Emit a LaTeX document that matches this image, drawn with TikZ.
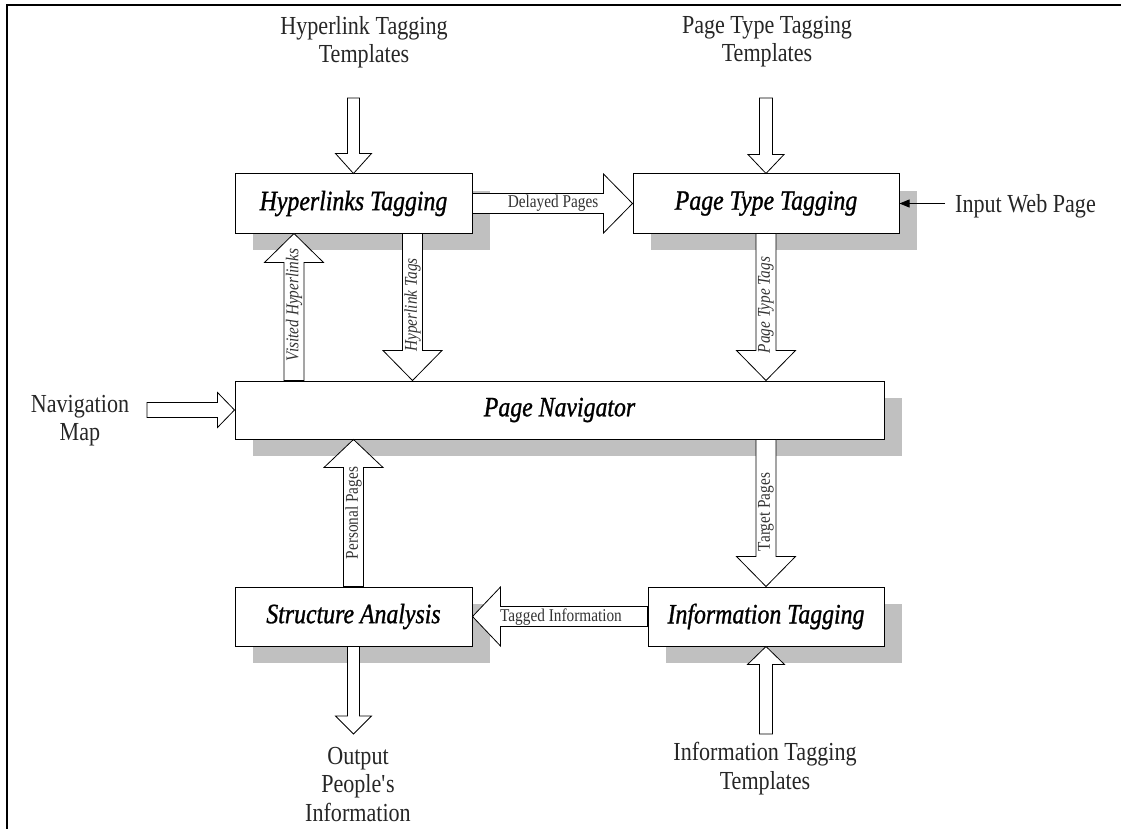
\documentclass[tikz,border=0pt]{standalone}
\usepackage{fontspec}
\setmainfont[FakeStretch=0.85]{Liberation Serif}
\newfontfamily\boxlabelfont[FakeStretch=0.85, FakeBold=1]{Liberation Serif}
\usetikzlibrary{calc,shadows,arrows.meta}
\definecolor{shadowgray}{RGB}{192,192,192}
% vertical block arrow: #1 start, #2 tip, #3 shaft half width, #4 head half width, #5 head length (negative = upward)
\newcommand{\vblock}[5]{%
  \draw[blk] ($(#1 -| #2)+(-#3,0)$) -- ($(#2)+(-#3,{-(#5)})$) -- ($(#2)+(-#4,{-(#5)})$) -- (#2)
    -- ($(#2)+(#4,{-(#5)})$) -- ($(#2)+(#3,{-(#5)})$) -- ($(#1 -| #2)+(#3,0)$) -- cycle;}
% horizontal block arrow: #5 head length (negative = leftward)
\newcommand{\hblock}[5]{%
  \draw[blk] ($(#1 |- #2)+(0,-#3)$) -- ($(#2)+({-(#5)},-#3)$) -- ($(#2)+({-(#5)},-#4)$) -- (#2)
    -- ($(#2)+({-(#5)},#4)$) -- ($(#2)+({-(#5)},#3)$) -- ($(#1 |- #2)+(0,#3)$) -- cycle;}
\tikzset{
  box/.style={draw, line width=1pt, fill=white, minimum height=59pt, inner sep=0pt,
    font=\boxlabelfont\fontsize{28}{30}\selectfont\itshape,
    general shadow={fill=shadowgray, shadow xshift=17.5pt, shadow yshift=-17pt}},
  ext/.style={font=\fontsize{26}{28.5}\selectfont, align=center, inner sep=0pt, text=black!85},
  small/.style={font=\fontsize{18}{20}\selectfont, inner sep=0pt, text=black!80},
  smallit/.style={font=\fontsize{18}{20}\selectfont\itshape, inner sep=0pt, text=black!80},
  blk/.style={draw, fill=white, line width=0.8pt, line join=miter},
}
\begin{document}
\begin{tikzpicture}[x=1pt, y=-1pt]
\useasboundingbox (0,0) rectangle (1121,829);
% frame
\draw[line width=2pt] (7,829) -- (7,5) -- (1121,5);
% boxes
\node[box, minimum width=237pt] (ht) at (353.5,203.5) {Hyperlinks Tagging};
\node[box, minimum width=266pt] (ptt) at (766,203.5) {Page Type Tagging};
\node[box, minimum width=649pt, minimum height=58pt] (nav) at (559.5,410) {Page Navigator};
\node[box, minimum width=237pt] (sa) at (353.5,616.5) {Structure Analysis};
\node[box, minimum width=236pt] (it) at (766,616.5) {Information Tagging};
% outside texts
\node[ext, anchor=north] (hltt) at (364,16) {Hyperlink Tagging\\Templates};
\node[ext, anchor=north] (pttt) at (767,16) {Page Type Tagging\\Templates};
\node[ext, anchor=west, inner xsep=10pt] (iwp) at (945,206) {Input Web Page};
\node[ext, anchor=north] (nm) at (80,395) {Navigation\\Map};
\node[ext, anchor=north] (out) at (358,747) {Output\\People\textquotesingle s\\Information};
\node[ext, anchor=north] (itt) at (765,742) {Information Tagging\\Templates};
% helper coordinates
\coordinate (hltt-a) at (353.5,98);
\coordinate (pttt-a) at (766,98);
\coordinate (nm-a) at (147,410);
\coordinate (out-a) at (353.5,734);
\coordinate (itt-a) at (766,734);
\coordinate (hl-s) at ([xshift=59pt]ht.south);
\coordinate (hl-e) at (hl-s |- nav.north);
\coordinate (vh-e) at ([xshift=-59.5pt]ht.south);
\coordinate (vh-s) at (vh-e |- nav.north);
\coordinate (ptt-e) at (ptt.south |- nav.north);
\coordinate (pp-e) at (sa.north |- nav.south);
\coordinate (tp-s) at (it.north |- nav.south);
% block arrows
\vblock{hltt-a}{ht.north}{6}{18}{20}
\vblock{pttt-a}{ptt.north}{6.5}{18}{19}
\hblock{ht.east}{ptt.west}{10}{29.5}{29}
\vblock{hl-s}{hl-e}{10}{29.5}{30}
\vblock{vh-s}{vh-e}{10}{29.5}{-29}
\vblock{ptt.south}{ptt-e}{10}{29.5}{30}
\hblock{nm-a}{nav.west}{7.5}{17.5}{17}
\vblock{sa.north}{pp-e}{10}{29.5}{-28}
\vblock{tp-s}{it.north}{10}{29.5}{30}
\hblock{it.west}{sa.east}{10}{29.5}{-28}
\vblock{sa.south}{out-a}{6}{18}{18}
\vblock{itt-a}{it.south}{6.5}{18.5}{-18}
% input web page arrow
\draw[line width=0.8pt, -{Triangle[length=10pt,width=8pt]}] (iwp.west |- ptt.east) -- (ptt.east);
% arrow labels
\node[small] (l-dp) at (553,203.5) {Delayed Pages};
\node[smallit, rotate=90] (l-vh) at (294,305) {Visited Hyperlinks};
\node[smallit, rotate=90] (l-hl) at (412.5,305) {Hyperlink Tags};
\node[smallit, rotate=90] (l-pt) at (766,305) {Page Type Tags};
\node[small, rotate=90] (l-pp) at (353.5,513) {Personal Pages};
\node[small, rotate=90] (l-tp) at (766,512) {Target Pages};
\node[small] (l-ti) at (561,617) {Tagged Information};
\end{tikzpicture}
\end{document}
